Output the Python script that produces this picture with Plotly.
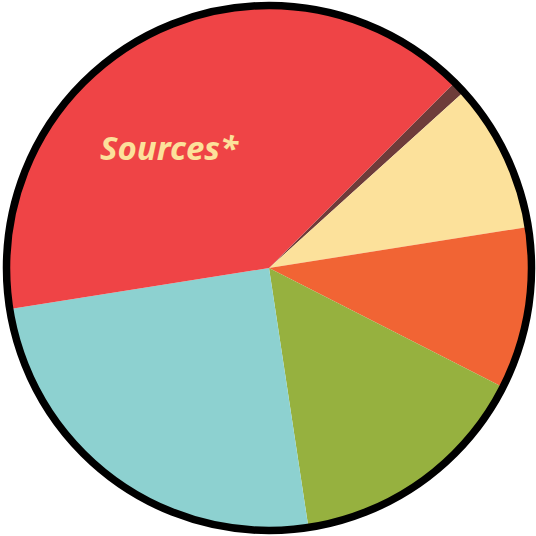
import plotly.graph_objects as go

# Data (shares), ordered clockwise starting at 45° from 12 o'clock
categories = ["Brown", "Yellow", "Orange", "Green", "Teal", "Sources*"]
values = [0.8, 9.2, 10.0, 15.1, 24.9, 40.0]
colors = ["#6E3C3A", "#FCE19B", "#F16434", "#96B13F", "#8DD1D0", "#EF4446"]
label_text = "Sources*"

W = H = 536
cx, cy = 269, 268
r_fill = 262
ring_r = 262.5
ring_w = 7.5

fig = go.Figure(go.Pie(
    labels=categories,
    values=values,
    marker=dict(colors=colors, line=dict(width=0)),
    sort=False,
    direction="clockwise",
    rotation=45,
    textinfo="none",
    hoverinfo="label+percent",
    showlegend=False,
    domain=dict(x=[(cx - r_fill) / W, (cx + r_fill) / W],
                y=[1 - (cy + r_fill) / H, 1 - (cy - r_fill) / H]),
))

fig.add_shape(type="circle", xref="paper", yref="paper",
              x0=(cx - ring_r) / W, x1=(cx + ring_r) / W,
              y0=1 - (cy + ring_r) / H, y1=1 - (cy - ring_r) / H,
              line=dict(color="#000000", width=ring_w))

fig.add_annotation(text=f"<b><i>{label_text}</i></b>", x=169 / W, y=1 - 147 / H,
                   xref="paper", yref="paper", showarrow=False,
                   xanchor="center", yanchor="middle",
                   font=dict(family="Noto Sans", size=33, color="#FCE19B"))

fig.update_layout(width=W, height=H, margin=dict(l=0, r=0, t=0, b=0),
                  paper_bgcolor="white", plot_bgcolor="white")

# remove the page's default 8px body margin so the figure fills the window
fig.write_html("out.html", config={"displayModeBar": False},
               post_script="document.body.style.margin='0';document.body.style.overflow='hidden';")
